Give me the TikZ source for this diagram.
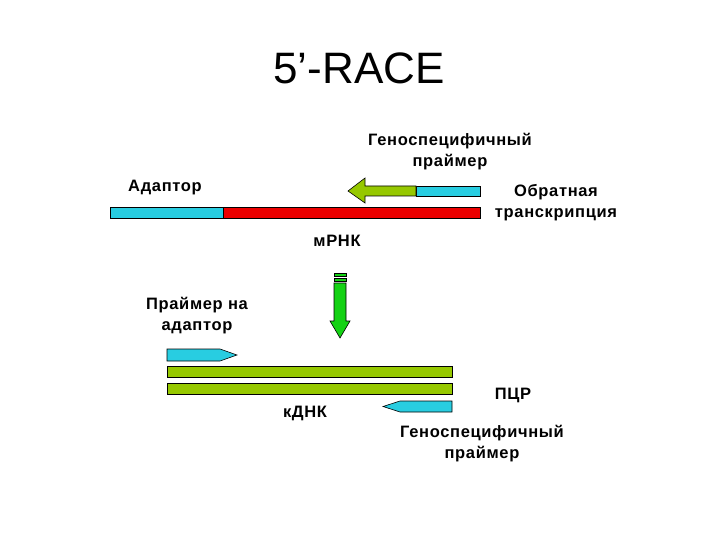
\documentclass[tikz,border=0pt]{standalone}
\usepackage{fontspec}
\setmainfont{Liberation Sans}
\newfontfamily\lblfont[LetterSpace=4]{Liberation Sans}
\definecolor{cy}{RGB}{40,205,225}
\definecolor{rd}{RGB}{235,0,0}
\definecolor{ol}{RGB}{150,200,0}
\definecolor{gr}{RGB}{20,210,20}
\begin{document}
\begin{tikzpicture}[x=1pt,y=-1pt,
  lbl/.style={font=\lblfont\bfseries\fontsize{16.5}{21}\selectfont, align=center, inner sep=0pt},
  seg/.style={draw=black, line width=0.6pt}]
\useasboundingbox (0,0) rectangle (720,540);
\node[font=\fontsize{44}{50}\selectfont, inner sep=0pt] (title) at (359,68) {5’-RACE};

% mRNA
\filldraw[seg, fill=cy] (110,207) rectangle (223,218);
\filldraw[seg, fill=rd] (223,207) rectangle (480,218);
% gene-specific primer (RT)
\filldraw[seg, fill=cy] (416,186) rectangle (480,196);
\filldraw[seg, fill=ol] (416,186) -- (365,186) -- (365,178) -- (348,191) -- (365,203) -- (365,196) -- (416,196) -- cycle;

\node[lbl] (gsp1) at (450,152) {Геноспецифичный\\праймер};
\node[lbl] (adp) at (165,188) {Адаптор};
\node[lbl] (rt) at (556,203) {Обратная\\транскрипция};
\node[lbl] (mrna) at (337,241) {мРНК};

% down arrow
\filldraw[seg, fill=gr] (334,273) rectangle (346,276);
\filldraw[seg, fill=gr] (334,278) rectangle (346,281);
\filldraw[seg, fill=gr] (334,283) -- (346,283) -- (346,321) -- (350,321) -- (340,338) -- (330,321) -- (334,321) -- cycle;

\node[lbl] (pad) at (197,316) {Праймер на\\адаптор};

% adaptor primer
\filldraw[seg, fill=cy] (167,349) -- (220,349) -- (237,355) -- (220,361) -- (167,361) -- cycle;
% cDNA
\filldraw[seg, fill=ol] (167,366) rectangle (452,377);
\filldraw[seg, fill=ol] (167,383) rectangle (452,394);
% bottom primer
\filldraw[seg, fill=cy] (452,401) -- (400,401) -- (383,406.5) -- (400,412) -- (452,412) -- cycle;

\node[lbl] (cdna) at (305,413) {кДНК};
\node[lbl] (pcr) at (513,395) {ПЦР};
\node[lbl] (gsp2) at (482,444) {Геноспецифичный\\праймер};
\end{tikzpicture}
\end{document}
